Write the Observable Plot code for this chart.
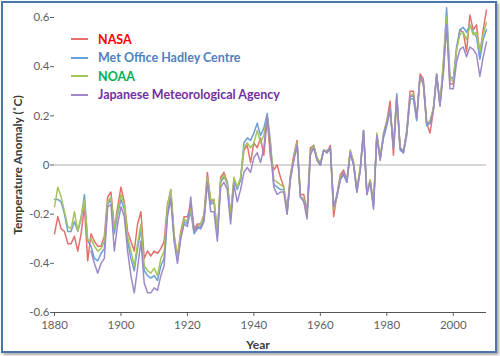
<!DOCTYPE html>
<html><head><meta charset="utf-8">
<script src="https://cdn.jsdelivr.net/npm/d3@7"></script>
<script src="https://cdn.jsdelivr.net/npm/@observablehq/plot@0.6"></script>
<style>
body{margin:0;background:#fff;}
#wrap{position:relative;width:500px;height:356px;overflow:hidden;font-family:Lato,"Open Sans",sans-serif;background:#fff;}
#chart{position:absolute;left:0;top:0;}
#frame{position:absolute;left:1px;top:1px;width:492px;height:348px;border:2px solid #4a76ad;box-shadow:2px 2px 3px rgba(0,0,0,0.35);pointer-events:none;}
#legend{position:absolute;left:71px;top:30px;}
.row{display:flex;align-items:center;height:18.5px;}
.sw{width:17px;height:0;border-top:2px solid;margin-right:10px;}
.lab{font-weight:700;font-size:12.5px;white-space:nowrap;}
#ylab{position:absolute;left:17px;top:165px;transform:translate(-50%,-50%) rotate(-90deg);font-weight:700;font-size:12px;color:#3a3a3a;white-space:nowrap;}
#xlab{position:absolute;left:258px;top:344px;transform:translate(-50%,-50%);font-weight:700;font-size:12px;color:#3a3a3a;}
</style></head>
<body>
<div id="wrap">
  <div id="chart"></div>
  <div id="legend"></div>
  <div id="ylab">Temperature Anomaly (˚C)</div>
  <div id="xlab">Year</div>
  <div id="frame"></div>
</div>
<script>
// ---- data ----
const seriesNames = ["NASA", "Met Office Hadley Centre", "NOAA", "Japanese Meteorological Agency"];
const lineColors = ["#e3706c", "#6a9fd8", "#a5c45c", "#9d89c9"];
const labelColors = ["#ff0000", "#4f81bd", "#00b050", "#7030a0"];
const xTicks = [1880, 1900, 1920, 1940, 1960, 1980, 2000];
const yTicks = [-0.6, -0.4, -0.2, 0, 0.2, 0.4, 0.6];

const nasaStart = 1880;
const nasa = [
 -0.28,-0.21,-0.26,-0.27,-0.32,-0.32,-0.29,-0.35,-0.28,-0.17,
 -0.39,-0.28,-0.31,-0.33,-0.33,-0.29,-0.13,-0.11,-0.26,-0.17,
 -0.09,-0.15,-0.27,-0.31,-0.35,-0.24,-0.19,-0.38,-0.35,-0.37,
 -0.35,-0.36,-0.34,-0.31,-0.16,-0.10,-0.29,-0.37,-0.27,-0.21,
 -0.21,-0.16,-0.26,-0.24,-0.24,-0.20,-0.03,-0.15,-0.14,-0.29,
 -0.05,-0.03,-0.07,-0.22,-0.06,-0.09,-0.06,0.06,0.08,0.01,
 0.09,0.07,0.11,0.04,0.19,0.03,-0.02,0.00,-0.05,-0.09,
 -0.18,-0.04,0.04,0.10,-0.12,-0.12,-0.19,0.07,0.08,0.02,
 0.00,0.06,0.05,0.08,-0.21,-0.12,-0.04,-0.02,-0.06,0.06,
 0.01,-0.10,-0.02,0.13,-0.12,-0.06,-0.16,0.12,0.02,0.12,
 0.18,0.26,0.04,0.27,0.07,0.05,0.14,0.30,0.30,0.19,
 0.37,0.35,0.17,0.13,0.22,0.37,0.25,0.38,0.58,0.33,
 0.33,0.47,0.55,0.54,0.46,0.61,0.55,0.57,0.45,0.55,
 0.63];

const hadleyStart = 1880;
const hadley = [
 -0.14,-0.14,-0.15,-0.20,-0.27,-0.27,-0.23,-0.27,-0.22,-0.12,
 -0.31,-0.33,-0.38,-0.39,-0.36,-0.34,-0.16,-0.14,-0.28,-0.20,
 -0.14,-0.18,-0.31,-0.38,-0.43,-0.34,-0.26,-0.43,-0.45,-0.46,
 -0.45,-0.47,-0.41,-0.38,-0.19,-0.12,-0.30,-0.39,-0.29,-0.23,
 -0.24,-0.19,-0.28,-0.26,-0.25,-0.22,-0.06,-0.16,-0.15,-0.29,
 -0.07,-0.05,-0.07,-0.21,-0.06,-0.10,-0.06,0.09,0.11,0.10,
 0.13,0.17,0.12,0.15,0.21,0.09,-0.08,-0.09,-0.10,-0.10,
 -0.19,-0.05,0.02,0.08,-0.13,-0.14,-0.20,0.05,0.08,0.03,
 0.00,0.06,0.05,0.07,-0.17,-0.12,-0.06,-0.04,-0.07,0.05,
 0.00,-0.11,-0.02,0.14,-0.11,-0.07,-0.17,0.12,0.03,0.11,
 0.16,0.22,0.07,0.29,0.06,0.05,0.12,0.27,0.27,0.18,
 0.36,0.33,0.16,0.17,0.23,0.37,0.24,0.40,0.64,0.36,
 0.35,0.48,0.55,0.56,0.54,0.57,0.54,0.52,0.43,0.51,
 0.55];

const noaaStart = 1880;
const noaa = [
 -0.17,-0.09,-0.13,-0.19,-0.25,-0.26,-0.19,-0.27,-0.21,-0.14,
 -0.31,-0.30,-0.33,-0.35,-0.34,-0.31,-0.15,-0.13,-0.26,-0.19,
 -0.12,-0.16,-0.29,-0.35,-0.41,-0.32,-0.24,-0.41,-0.43,-0.44,
 -0.42,-0.45,-0.38,-0.35,-0.17,-0.10,-0.28,-0.38,-0.28,-0.22,
 -0.23,-0.18,-0.27,-0.25,-0.24,-0.21,-0.05,-0.14,-0.14,-0.28,
 -0.06,-0.04,-0.08,-0.20,-0.05,-0.09,-0.05,0.07,0.09,0.07,
 0.09,0.14,0.09,0.12,0.20,0.08,-0.06,-0.07,-0.08,-0.09,
 -0.20,-0.05,0.03,0.09,-0.13,-0.14,-0.21,0.05,0.08,0.03,
 0.01,0.06,0.06,0.07,-0.18,-0.13,-0.05,-0.03,-0.06,0.06,
 0.01,-0.10,-0.01,0.14,-0.11,-0.06,-0.16,0.13,0.03,0.13,
 0.18,0.23,0.07,0.28,0.07,0.06,0.13,0.28,0.29,0.19,
 0.36,0.33,0.17,0.18,0.23,0.36,0.25,0.42,0.60,0.35,
 0.34,0.47,0.53,0.54,0.51,0.57,0.53,0.54,0.46,0.53,
 0.58];

const jmaStart = 1891;
const jma = [
 -0.35,-0.40,-0.44,-0.40,-0.38,-0.17,-0.16,-0.35,-0.24,
 -0.17,-0.21,-0.35,-0.45,-0.52,-0.42,-0.31,-0.48,-0.52,-0.52,
 -0.50,-0.51,-0.45,-0.41,-0.21,-0.14,-0.31,-0.40,-0.30,-0.24,
 -0.25,-0.13,-0.27,-0.25,-0.26,-0.23,-0.07,-0.19,-0.19,-0.31,
 -0.09,-0.07,-0.10,-0.24,-0.08,-0.15,-0.10,-0.03,-0.01,-0.03,
 0.03,0.05,0.01,0.07,0.20,0.06,-0.09,-0.12,-0.11,-0.11,
 -0.20,-0.06,0.02,0.08,-0.13,-0.15,-0.22,0.04,0.07,0.02,
 0.00,0.06,0.05,0.07,-0.17,-0.13,-0.06,-0.03,-0.07,0.05,
 0.00,-0.11,-0.02,0.14,-0.12,-0.07,-0.18,0.12,0.02,0.12,
 0.17,0.23,0.07,0.28,0.07,0.05,0.13,0.28,0.28,0.19,
 0.36,0.33,0.17,0.17,0.22,0.36,0.24,0.37,0.57,0.31,
 0.31,0.42,0.47,0.48,0.44,0.48,0.47,0.45,0.36,0.44,
 0.50];

// ---- build ----
const sets = [[nasa, nasaStart], [hadley, hadleyStart], [noaa, noaaStart], [jma, jmaStart]];
const rows = sets.map(([vals, start], i) => vals.map((v, k) => ({year: start + k, value: v, series: seriesNames[i]})));

const chart = Plot.plot({
  width: 500,
  height: 356,
  marginLeft: 54,
  marginRight: 14,
  marginTop: 17,
  marginBottom: 44,
  style: {fontFamily: "Lato, 'Open Sans', sans-serif", fontSize: "11.5px", color: "#5f5f5f", background: "transparent"},
  x: {domain: [1880, 2010], ticks: xTicks, tickFormat: d => String(d), tickSize: 4, tickPadding: 4, label: null},
  y: {domain: [-0.6, 0.6], ticks: yTicks, tickFormat: d => d === 0 ? "0" : d.toFixed(1), tickSize: 4, tickPadding: 1, label: null},
  marks: [
    Plot.ruleY([0], {stroke: "#c8c8c8", strokeWidth: 1.5}),
    ...rows.map((r, i) => Plot.line(r, {x: "year", y: "value", stroke: lineColors[i], strokeWidth: 1.5})),
    Plot.ruleY([-0.6], {stroke: "#555", strokeWidth: 1.2})
  ]
});
document.getElementById("chart").appendChild(chart);

const leg = document.getElementById("legend");
seriesNames.forEach((n, i) => {
  const row = document.createElement("div");
  row.className = "row";
  row.innerHTML = `<div class="sw" style="border-color:${lineColors[i]}"></div><div class="lab" style="color:${labelColors[i]}">${n}</div>`;
  leg.appendChild(row);
});
</script>
</body></html>
